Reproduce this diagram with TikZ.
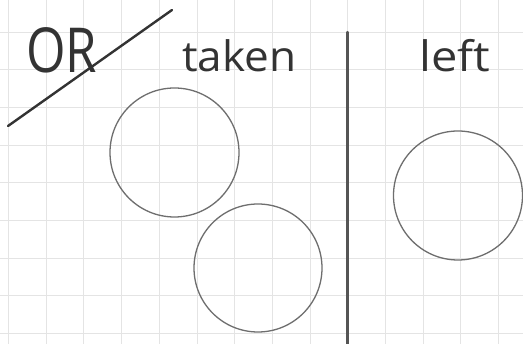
\documentclass[tikz,border=0pt]{standalone}
\usepackage{fontspec}
\newfontfamily\hand{Open Sans}
\definecolor{gridc}{HTML}{E4E4E4}
\definecolor{penc}{HTML}{333333}
\definecolor{circc}{HTML}{6E6E6E}
\definecolor{divc}{HTML}{555555}
\begin{document}
\begin{tikzpicture}[x=1pt,y=-1pt,
  ring/.style={circle,draw=circc,line width=1.3pt,inner sep=0pt,minimum size=#1},
  label/.style={text=penc,inner sep=0pt,font=\hand\fontsize{42}{42}\selectfont},
  ink/.style={draw=penc,line width=2.4pt,line cap=round}]
\useasboundingbox (0,0) rectangle (523,344);
\fill[white] (0,0) rectangle (523,344);
% grid
\foreach \i in {0,...,13} {
  \draw[gridc,line width=0.9pt] ({8.5+37.7*\i},0) -- ({8.5+37.7*\i},344);
}
\foreach \j in {0,...,8} {
  \draw[gridc,line width=0.9pt] (0,{32+37.7*\j}) -- (523,{32+37.7*\j});
}
% texts
\node[label,anchor=base west,xscale=0.82,font=\hand\fontsize{62}{62}\selectfont] (or) at (26,73) {OR};
\node[label,anchor=base west,xscale=1.05] (taken) at (182,72) {taken};
\node[label,anchor=base west,xscale=1.12] (left) at (419,72) {left};
% diagonal stroke
\coordinate (d1) at (8,126);
\coordinate (d2) at (172,10);
\draw[ink] (d1) -- (d2);
% divider
\coordinate (v1) at (347.5,32);
\coordinate (v2) at (347.5,344);
\draw[ink,draw=divc,line width=2.2pt] (v1) -- (v2);
% circles
\node[ring=129pt] (c1) at (174.5,152.5) {};
\node[ring=128pt] (c2) at (258,268) {};
\node[ring=129pt] (c3) at (458,195.5) {};
\end{tikzpicture}
\end{document}
